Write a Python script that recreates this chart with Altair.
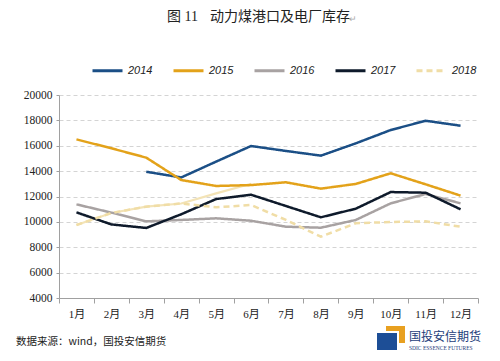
import altair as alt
import pandas as pd

months = ["1月", "2月", "3月", "4月", "5月", "6月", "7月", "8月", "9月", "10月", "11月", "12月"]
years = ["2014", "2015", "2016", "2017", "2018"]
s2014 = [None, None, 13950, 13500, 14750, 15980, 15590, 15220, 16190, 17240, 17970, 17580]
s2015 = [16500, 15800, 15060, 13300, 12830, 12900, 13120, 12620, 12990, 13830, 12960, 12070]
s2016 = [11380, 10730, 10040, 10150, 10280, 10090, 9620, 9540, 10150, 11460, 12200, 11460]
s2017 = [10750, 9800, 9520, 10600, 11800, 12140, 11250, 10360, 11040, 12350, 12300, 10990]
s2018 = [9750, 10700, 11200, 11450, 11150, 11330, 10150, 8830, 9890, 9990, 10040, 9620]
pale_extra = [9750, 10700, 11200, 11450, 12250, 13000, None, None, None, None, None, None]
colors = ["#1B4F86", "#E3A21A", "#A8A2A2", "#0E1A2B", "#F0DDA6"]
dashes = [[1, 0], [1, 0], [1, 0], [1, 0], [6, 4]]
y_ticks = [4000, 6000, 8000, 10000, 12000, 14000, 16000, 18000, 20000]

rows = []
for yr, vals in zip(years, [s2014, s2015, s2016, s2017, s2018]):
    for m, v in zip(months, vals):
        if v is not None:
            rows.append({"month": m, "year": yr, "value": v})
df = pd.DataFrame(rows)
df_extra = pd.DataFrame([{"month": m, "value": v} for m, v in zip(months, pale_extra) if v is not None])

FONT = "Liberation Serif, Noto Sans CJK SC"
W, H = 419, 203

xenc = alt.X("month:N", sort=months, title=None,
             scale=alt.Scale(type="band", paddingInner=0, paddingOuter=0, domain=months),
             axis=alt.Axis(labelAngle=0, tickBand="extent", domainColor="#A0A0A0", tickColor="#A0A0A0",
                           tickSize=5, labelFont=FONT, labelFontSize=11, labelColor="#222",
                           labelPadding=5, grid=False))
yenc = alt.Y("value:Q", title=None,
             scale=alt.Scale(domain=[4000, 20000], nice=False),
             axis=alt.Axis(values=y_ticks, format="d", domainColor="#A0A0A0", tickColor="#A0A0A0", tickSize=3,
                           labelFont=FONT, labelFontSize=11.5, labelColor="#222", labelPadding=4,
                           gridColor="#D4D4D4", gridDash=[4, 3], gridWidth=1))

extra = alt.Chart(df_extra).mark_line(strokeWidth=2.2, color="#F3E3B6").encode(x=xenc, y=yenc)

lines = alt.Chart(df).mark_line(strokeWidth=2.5).encode(
    x=xenc, y=yenc,
    color=alt.Color("year:N", scale=alt.Scale(domain=years, range=colors),
                    legend=alt.Legend(title=None, orient="none", direction="horizontal",
                                      legendX=32, legendY=-41, symbolType="stroke",
                                      symbolSize=900, symbolStrokeWidth=3,
                                      labelFont="Liberation Sans", labelFontStyle="italic",
                                      labelFontSize=11, labelColor="#222",
                                      columnPadding=14, symbolOffset=0, labelOffset=4)),
    strokeDash=alt.StrokeDash("year:N", scale=alt.Scale(domain=years, range=dashes), legend=None),
)

def txt(s, x, y, size, color="#222", font="Noto Sans CJK SC", align="left", weight="normal"):
    return alt.Chart(pd.DataFrame({"t": [s]})).mark_text(
        align=align, baseline="middle", fontSize=size, font=font, color=color, fontWeight=weight
    ).encode(x=alt.value(x), y=alt.value(y), text="t:N")

def box(x1, y1, x2, y2, color):
    return alt.Chart(pd.DataFrame({"a": [0]})).mark_rect(color=color).encode(
        x=alt.value(x1), x2=alt.value(x2), y=alt.value(y1), y2=alt.value(y2))

ox, oy = 59, 95
deco = [
    txt("图 11", 167 - ox, 17 - oy, 14, font=FONT),
    txt("动力煤港口及电厂库存", 210 - ox, 17 - oy, 14),
    txt("↵", 349 - ox, 19 - oy, 9, color="#AAAAAA"),
    txt("数据来源：wind，国投安信期货", 16 - ox, 342 - oy, 10.5),
    box(377 - ox, 333 - oy, 397 - ox, 350 - oy, "#1D4E96"),
    box(386 - ox, 326 - oy, 405 - ox, 331 - oy, "#E8A020"),
    box(399 - ox, 326 - oy, 405 - ox, 343 - oy, "#E8A020"),
    txt("国投安信期货", 409 - ox, 337 - oy, 12, color="#1D3D7A"),
    txt("SDIC ESSENCE FUTURES", 409 - ox, 348 - oy, 5.5, color="#1D3D7A", font="Liberation Serif"),
]

chart = alt.layer(extra, lines, *deco).properties(
    width=W, height=H,
    autosize=alt.AutoSizeParams(type="none"),
    padding={"left": 51, "top": 87, "right": 14, "bottom": 55},
    background="white",
).configure_view(stroke=None).configure_axisY(domain=True)

chart.save("out.html", embed_options={"renderer": "svg", "actions": False})
